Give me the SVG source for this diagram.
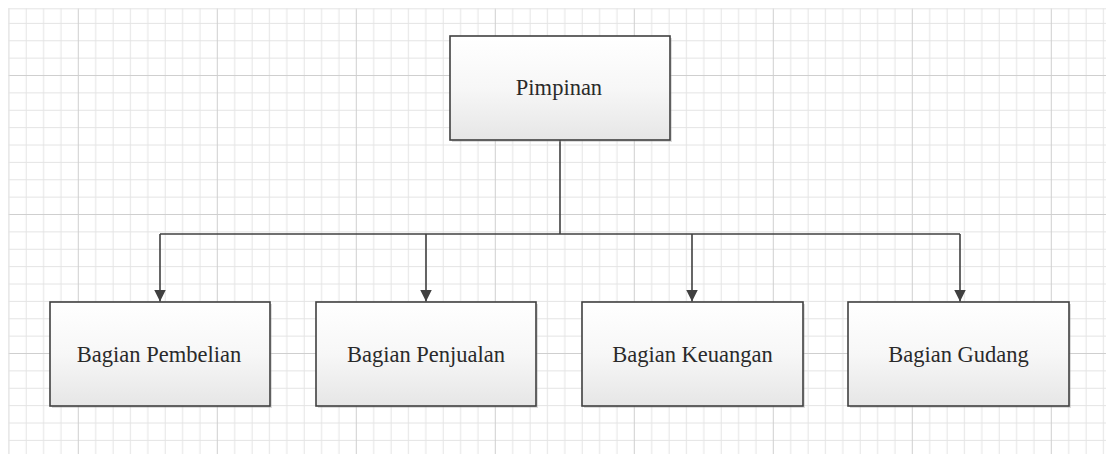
<svg xmlns="http://www.w3.org/2000/svg" width="1106" height="454" viewBox="0 0 1106 454">
  <style>
    .box { fill: url(#boxGrad); stroke: #404040; stroke-width: 1.6; }
    .shadow { fill: #9a9a9a; opacity: 0.35; }
    .label { font-family: "Liberation Serif", "Times New Roman", serif; font-size: 22.5px; fill: #2a2a2a; text-anchor: middle; }
    .conn { fill: none; stroke: #404040; stroke-width: 1.6; }
    .minor { stroke: #e4e4e4; stroke-width: 1; fill: none; }
    .major { stroke: #cfcfcf; stroke-width: 1; fill: none; }
  </style>
  <defs>
    <linearGradient id="boxGrad" x1="0" y1="0" x2="0" y2="1">
      <stop offset="0" stop-color="#ffffff"/>
      <stop offset="0.5" stop-color="#f7f7f7"/>
      <stop offset="1" stop-color="#e6e6e6"/>
    </linearGradient>
    <pattern id="grid" patternUnits="userSpaceOnUse" x="77.8" y="75" width="139" height="139">
      <path class="minor" d="M17.875 0V139M35.25 0V139M52.625 0V139M70 0V139M87.375 0V139M104.75 0V139M122.125 0V139M0 17.875H139M0 35.25H139M0 52.625H139M0 70H139M0 87.375H139M0 104.75H139M0 122.125H139"/>
      <path class="major" d="M0.5 0V139M0 0.5H139"/>
    </pattern>
    <marker id="arrow" viewBox="0 0 12 12" refX="12" refY="6" markerWidth="12" markerHeight="12" markerUnits="userSpaceOnUse" orient="auto">
      <path d="M0 0L12 6L0 12Z" fill="#404040"/>
    </marker>
  </defs>

  <rect width="1106" height="454" fill="#ffffff"/>
  <g id="background-grid">
    <rect x="8.3" y="8.3" width="1097.7" height="445.7" fill="url(#grid)"/>
    <path class="minor" d="M8.8 8.3V454M8.3 8.8H1106"/>
  </g>

  <g id="connectors">
    <path class="conn" d="M560 140V234"/>
    <path class="conn" d="M160 234H960"/>
    <path class="conn" d="M160 234V301.5" marker-end="url(#arrow)"/>
    <path class="conn" d="M426 234V301.5" marker-end="url(#arrow)"/>
    <path class="conn" d="M692 234V301.5" marker-end="url(#arrow)"/>
    <path class="conn" d="M960 234V301.5" marker-end="url(#arrow)"/>
  </g>

  <g id="node-pimpinan">
    <rect class="shadow" x="452" y="38" width="220" height="104"/>
    <rect class="box" x="450" y="36" width="220" height="104"/>
    <text class="label" x="559" y="95">Pimpinan</text>
  </g>

  <g id="node-pembelian">
    <rect class="shadow" x="52" y="304" width="220" height="104"/>
    <rect class="box" x="50" y="302" width="220" height="104"/>
    <text class="label" x="159" y="361.5">Bagian Pembelian</text>
  </g>

  <g id="node-penjualan">
    <rect class="shadow" x="318" y="304" width="220" height="104"/>
    <rect class="box" x="316" y="302" width="220" height="104"/>
    <text class="label" x="426" y="361.5">Bagian Penjualan</text>
  </g>

  <g id="node-keuangan">
    <rect class="shadow" x="584" y="304" width="221" height="104"/>
    <rect class="box" x="582" y="302" width="221" height="104"/>
    <text class="label" x="692.5" y="361.5">Bagian Keuangan</text>
  </g>

  <g id="node-gudang">
    <rect class="shadow" x="850" y="304" width="221" height="104"/>
    <rect class="box" x="848" y="302" width="221" height="104"/>
    <text class="label" x="958.5" y="361.5">Bagian Gudang</text>
  </g>
</svg>
